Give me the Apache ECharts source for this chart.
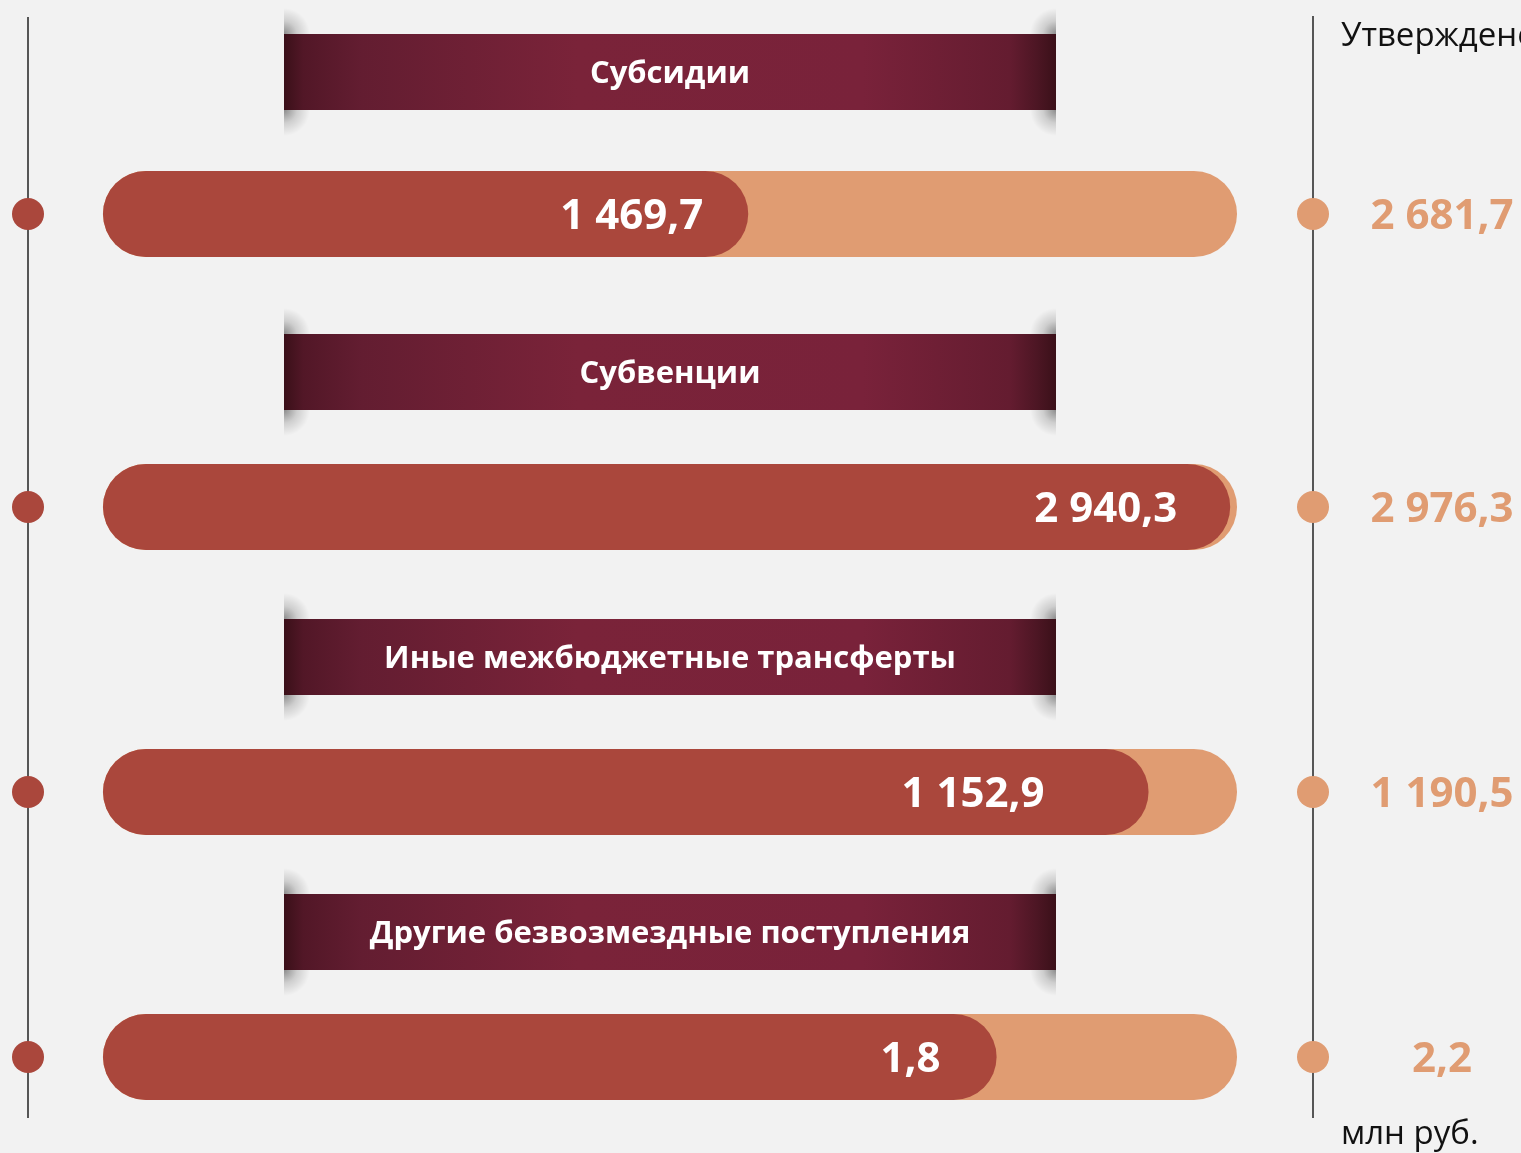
<!DOCTYPE html>
<html>
<head>
<meta charset="utf-8">
<script src="https://cdn.jsdelivr.net/npm/echarts@6/dist/echarts.min.js"></script>
<style>
  html, body { margin: 0; padding: 0; background: #f2f2f2; }
  #chart { width: 1521px; height: 1153px; }
</style>
</head>
<body>
<div id="chart"></div>
<script>
// data
const categories = ['Субсидии', 'Субвенции', 'Иные межбюджетные трансферты', 'Другие безвозмездные поступления']
const executed = [1469.7, 2940.3, 1152.9, 1.8]
const approved = [2681.7, 2976.3, 1190.5, 2.2]
// filled share of each bar (% of approved), as drawn in the picture
const filledShare = [56.9, 99.4, 92.2, 78.8]
const approvedTitle = 'Утверждено'
const unitText = 'млн руб.'

// layout
const rowCenters = [214, 507, 792, 1057]
const bannerCenters = [72, 372, 657, 932]
const labelInset = [45, 53, 104, 56]
const barH = 86
const xMin = -6.61, xMax = 106.7
const font = '"Open Sans", sans-serif'
const darkRed = '#aa473c'
const light = '#e09c72'

// 1 469,7 style
const fmt = (v) => {
  const [i, d] = v.toFixed(1).split('.')
  return i.replace(/\B(?=(\d{3})+(?!\d))/g, ' ') + ',' + d
}

const chart = echarts.init(document.getElementById('chart'))

const grid = [], xAxis = [], yAxis = [], series = []
categories.forEach((name, i) => {
  grid.push({ left: 28, right: 1521 - 1313, top: rowCenters[i] - barH / 2, height: barH })
  xAxis.push({ gridIndex: i, type: 'value', min: xMin, max: xMax, show: false })
  yAxis.push({ gridIndex: i, type: 'category', data: [name], show: false })
  series.push({
    type: 'bar', xAxisIndex: i, yAxisIndex: i, data: [100], barWidth: barH, silent: true,
    itemStyle: { color: light, borderRadius: barH / 2 },
    label: {
      show: true, position: 'right', distance: 130, offset: [0, 3],
      formatter: '{a|' + fmt(approved[i]) + '}',
      rich: { a: { width: 150, align: 'center', color: light, fontSize: 42, fontWeight: 'bold', fontFamily: font } }
    }
  })
  series.push({
    type: 'bar', xAxisIndex: i, yAxisIndex: i, data: [filledShare[i]], barWidth: barH, barGap: '-100%', silent: true,
    itemStyle: { color: darkRed, borderRadius: barH / 2 },
    label: {
      show: true, position: 'insideRight', distance: labelInset[i], offset: [0, 3],
      formatter: fmt(executed[i]),
      color: '#fff', fontSize: 42, fontWeight: 'bold', fontFamily: font
    }
  })
  series.push({
    type: 'scatter', xAxisIndex: i, yAxisIndex: i, symbolSize: 32, clip: false, silent: true, z: 5,
    itemStyle: { opacity: 1 },
    data: [
      { value: [xMin, 0], itemStyle: { color: darkRed } },
      { value: [xMax, 0], itemStyle: { color: light } }
    ]
  })
})

// soft shadow blob at a banner corner
const blob = (x, y, cx, cy) => ({
  type: 'rect', z: 1,
  shape: { x: x, y: y, width: 34, height: 26 },
  style: {
    fill: new echarts.graphic.RadialGradient(cx, cy, 1, [
      { offset: 0, color: 'rgba(0,0,0,0.42)' },
      { offset: 0.5, color: 'rgba(0,0,0,0.15)' },
      { offset: 1, color: 'rgba(0,0,0,0)' }
    ])
  }
})

// banners with category names
const banners = []
categories.forEach((name, i) => {
  const top = bannerCenters[i] - 38
  const bottom = top + 76
  banners.push(blob(284, top - 26, 0, 1), blob(284, bottom, 0, 0))
  banners.push(blob(1022, top - 26, 1, 1), blob(1022, bottom, 1, 0))
  banners.push({
    type: 'rect', z: 2,
    shape: { x: 284, y: top, width: 772, height: 76 },
    style: {
      fill: new echarts.graphic.LinearGradient(0, 0, 1, 0, [
        { offset: 0, color: '#3a1019' },
        { offset: 0.025, color: '#521727' },
        { offset: 0.1, color: '#631d31' },
        { offset: 0.38, color: '#7a2339' },
        { offset: 0.75, color: '#79223a' },
        { offset: 0.94, color: '#641c30' },
        { offset: 0.975, color: '#4d1624' },
        { offset: 1, color: '#3a1019' }
      ])
    }
  })
  banners.push({
    type: 'text', z: 3, x: 670, y: bannerCenters[i] + 2,
    style: { text: name, fill: '#fff', font: 'bold 31px ' + font, textAlign: 'center', textVerticalAlign: 'middle' }
  })
})

chart.setOption({
  backgroundColor: '#f2f2f2',
  animation: false,
  grid, xAxis, yAxis, series,
  graphic: [
    { type: 'line', z: 0, shape: { x1: 28, y1: 17, x2: 28, y2: 1118 }, style: { stroke: '#222', lineWidth: 1.5 } },
    { type: 'line', z: 0, shape: { x1: 1313, y1: 16, x2: 1313, y2: 1118 }, style: { stroke: '#222', lineWidth: 1.5 } },
    { type: 'text', x: 1341, y: 37, style: { text: approvedTitle, fill: '#111', font: '33px ' + font, textVerticalAlign: 'middle' } },
    { type: 'text', x: 1341, y: 1135, style: { text: unitText, fill: '#111', font: '33px ' + font, textVerticalAlign: 'middle' } },
    ...banners
  ]
})
</script>
</body>
</html>
